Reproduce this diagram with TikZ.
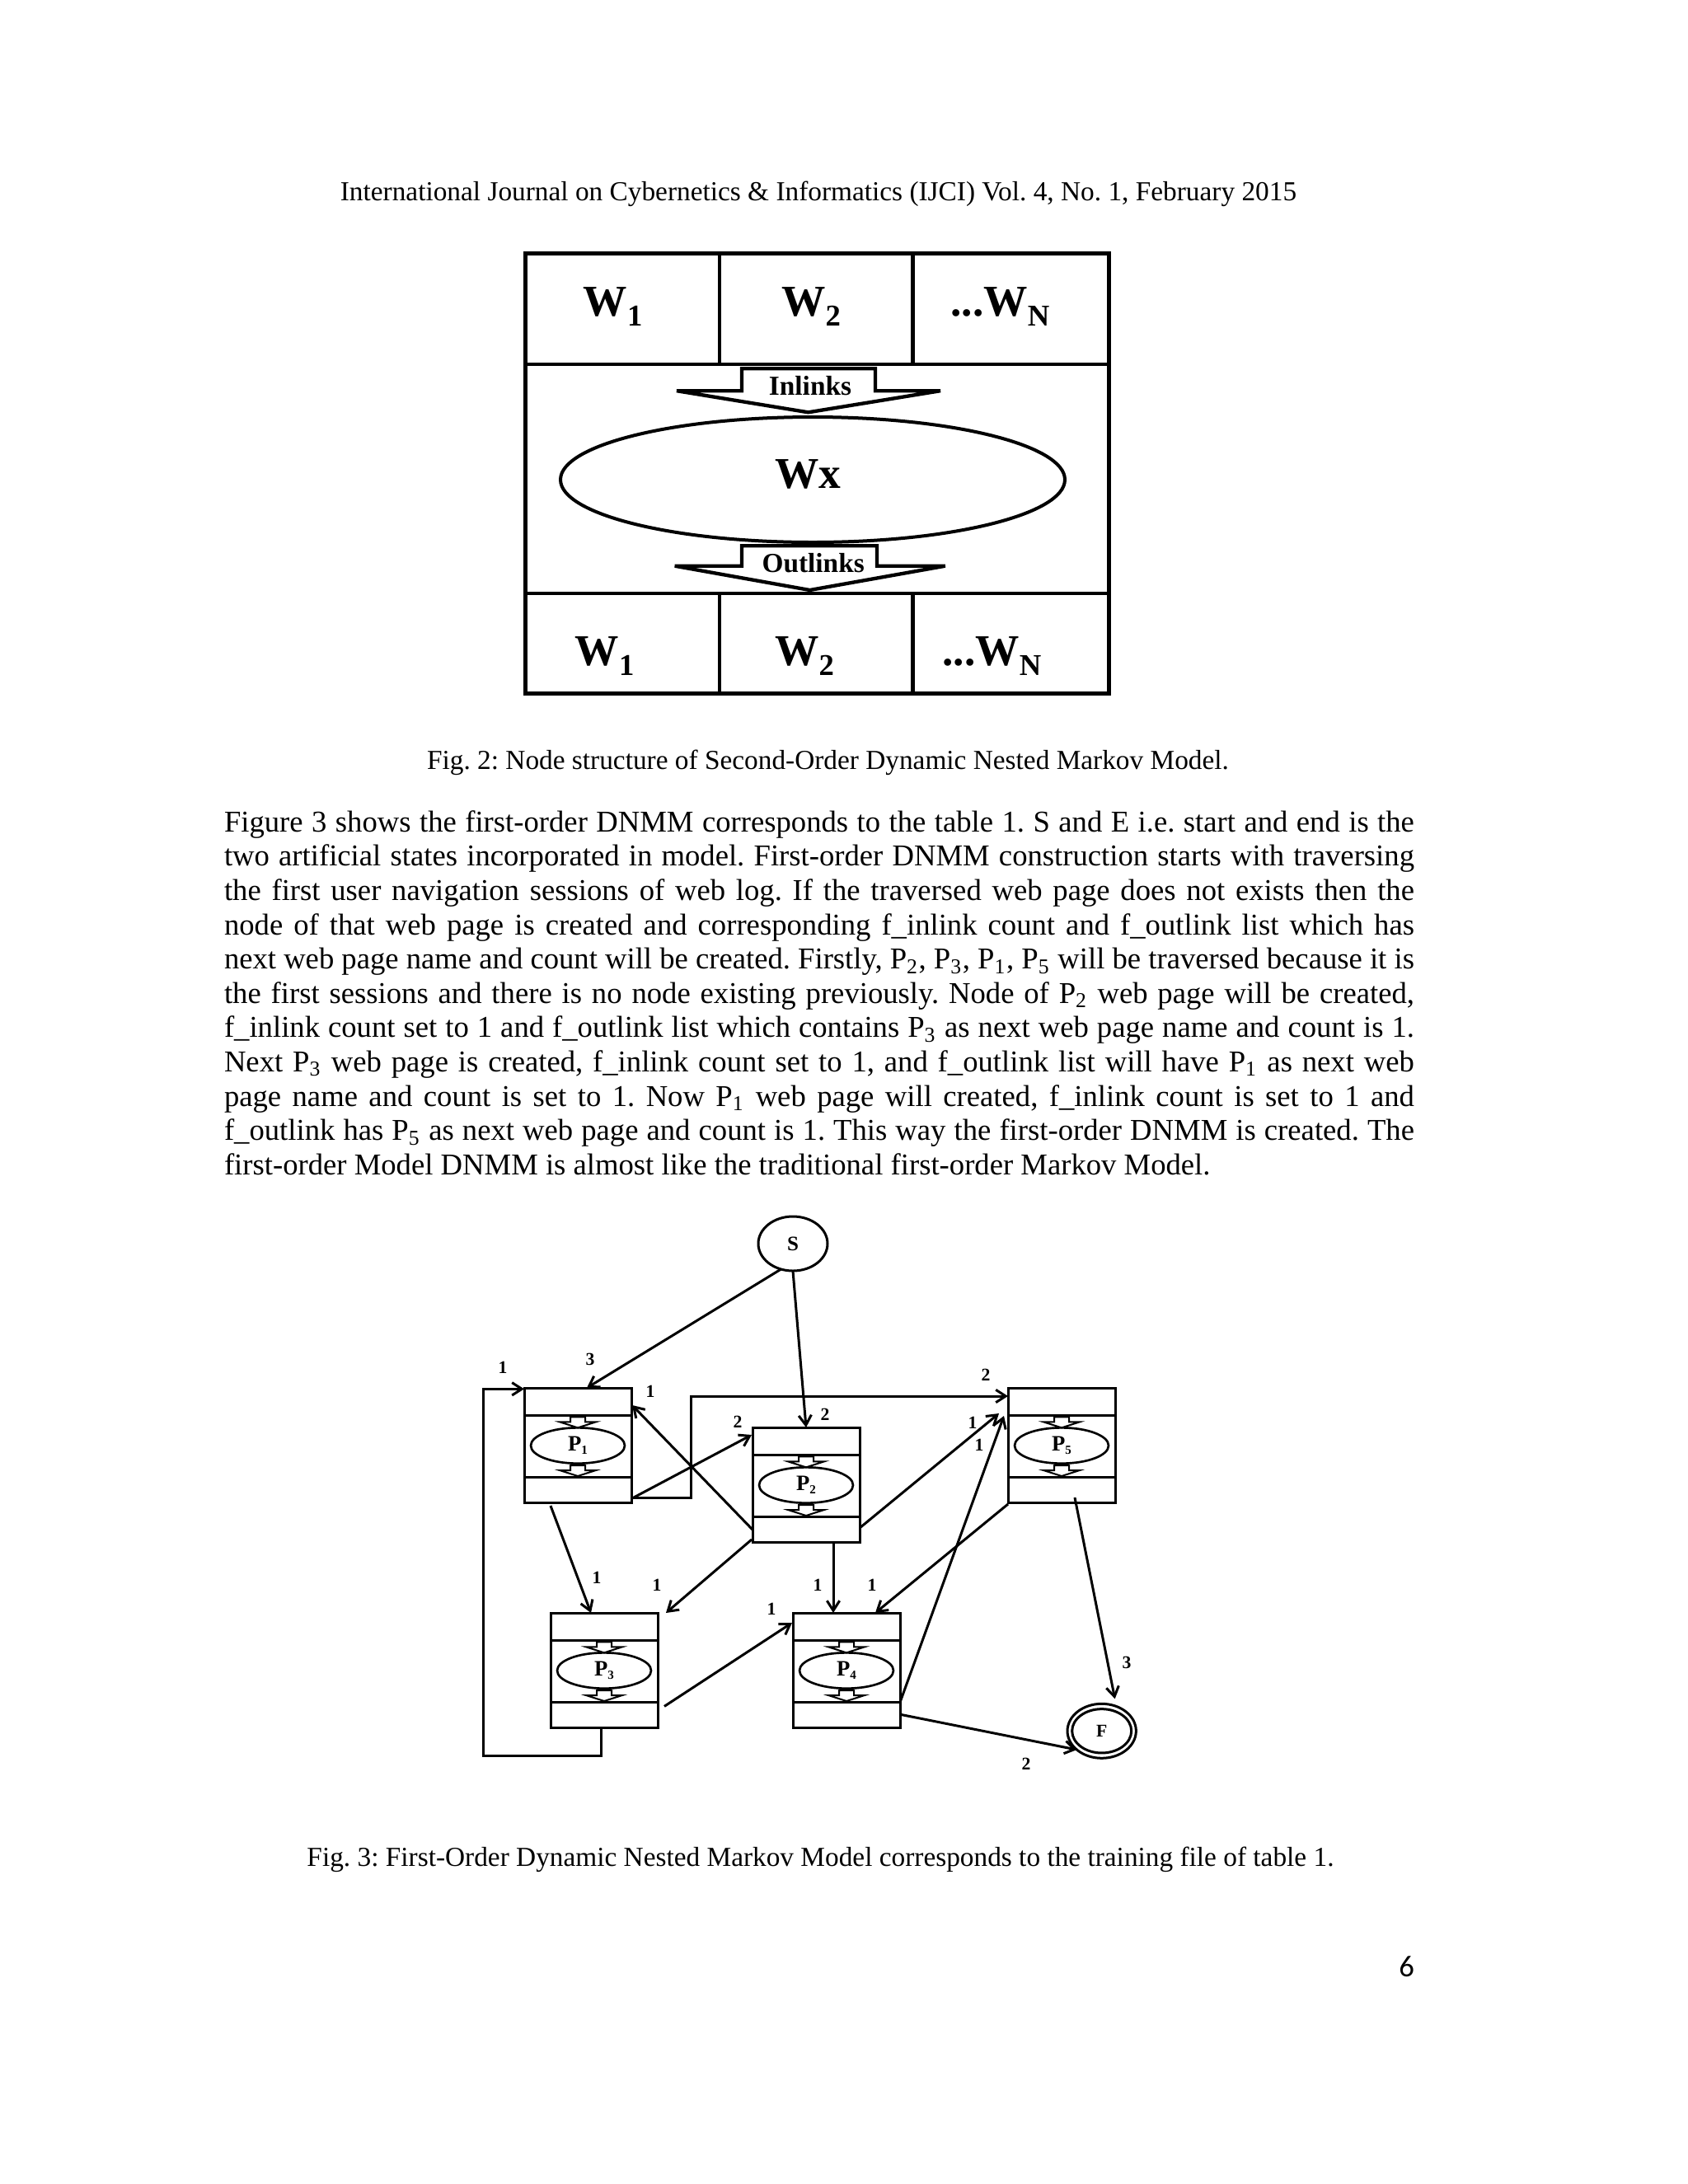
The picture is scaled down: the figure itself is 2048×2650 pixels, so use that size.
\documentclass[tikz,border=0pt]{standalone}
\usepackage{fontspec}
\setmainfont{Liberation Serif}
\newfontfamily\calib{Carlito}
\usetikzlibrary{arrows.meta,shapes.geometric,calc}
\frenchspacing
\newcommand\jline[1]{\hbox to 433.2pt{\spaceskip=0.25em plus 3em minus 0.12em\relax #1}}
\newcommand\lline[1]{\hbox to 433.2pt{\spaceskip=0.25em plus 0.1em minus 0.05em\relax #1\hfil}}
\newcommand\psub[1]{{\fontsize{4.5pt}{5pt}\selectfont\raisebox{-1.2pt}{#1}}}
\newcommand\wsub[1]{{\fontsize{11pt}{11pt}\selectfont\raisebox{-3.5pt}{#1}}}
\newcommand\tsub[1]{\textsubscript{#1}}
\newcommand\pbox[4]{%
 \node[pbx] (#1) at (#2+65,#3+69.5) {};
 \draw[pline] ($(#1.north west)+(0,33)$) -- ($(#1.north east)+(0,33)$);
 \draw[pline] ($(#1.north west)+(0,108)$) -- ($(#1.north east)+(0,108)$);
 \node[pel] (#1e) at ($(#1.north)+(0,70)$) {P\psub{#4}};
 \draw[sarr] ($(#1e.north)+(-9,-13)$) -- ++(18,0) -- ++(0,6) -- ++(13,0) -- (#1e.north) -- ++(-22,-7) -- ++(13,0) -- cycle;
 \draw[sarr] ($(#1.north)+(-9,94)$) -- ++(18,0) -- ++(0,6) -- ++(13,0) -- ($(#1.north)+(0,107)$) -- ++(-22,-7) -- ++(13,0) -- cycle;
}
\begin{document}
\begin{tikzpicture}[x=0.3pt,y=-0.3pt,
  every node/.style={inner sep=0pt,outer sep=0pt},
  body/.style={anchor=base west,font=\fontsize{11pt}{13pt}\selectfont},
  captxt/.style={anchor=base,font=\fontsize{10pt}{12pt}\selectfont},
  lbl/.style={font=\fontsize{6.5pt}{7pt}\selectfont\bfseries},
  arr/.style={line width=0.9pt,-{Straight Barb[length=3.6pt,width=4.6pt]}},
  pline/.style={line width=0.9pt},
  pbx/.style={draw,rectangle,line width=0.9pt,minimum width=39pt,minimum height=41.7pt},
  pel/.style={draw,ellipse,line width=0.8pt,minimum width=34.2pt,minimum height=13pt,font=\fontsize{8pt}{8pt}\selectfont\bfseries},
  sarr/.style={draw,fill=white,line width=0.6pt},
  blk/.style={draw,fill=white,line width=1.3pt},
  bigw/.style={anchor=base,font=\fontsize{16pt}{16pt}\selectfont\bfseries},
  ]
\fill[white] (0,0) rectangle (2048,2650);
\useasboundingbox (0,0) rectangle (2048,2650);

% header
\node[captxt] (hdr) at (993,243) {International Journal on Cybernetics \& Informatics (IJCI) Vol. 4, No. 1, February 2015};

% ---------- Fig. 2 ----------
\draw[line width=1.5pt] (637,307.5) rectangle (1345,841.5);
\draw[line width=1.3pt] (637,442) -- (1345,442) (637,720) -- (1345,720)
  (873,307.5) -- (873,442) (1107.6,307.5) -- (1107.6,442)
  (873,720) -- (873,841.5) (1107.6,720) -- (1107.6,841.5);
\node[bigw] (tw1) at (743.6,383.5) {W\wsub{1}};
\node[bigw] (tw2) at (984,383.5) {W\wsub{2}};
\node[bigw] (twn) at (1213.5,383.5) {...W\wsub{N}};
\node[bigw] (bw1) at (733.5,807.5) {W\wsub{1}};
\node[bigw] (bw2) at (976,807.5) {W\wsub{2}};
\node[bigw] (bwn) at (1203.5,807.5) {...W\wsub{N}};
\node[draw,ellipse,line width=1.2pt,minimum width=183.6pt,minimum height=45.6pt] (wx) at (986,582) {};
\node[bigw] (wxl) at (980,592.4) {Wx};
\draw[blk] (900,447.3) -- (1062,447.3) -- (1062,474.2) -- (1141,474.2) -- (980.6,500.3) -- (821,474.2) -- (900,474.2) -- cycle;
\node[anchor=base,font=\fontsize{10pt}{10pt}\selectfont\bfseries] (inl) at (983,479.5) {Inlinks};
\draw[blk] (900,662.3) -- (1064,662.3) -- (1064,686.7) -- (1146.8,686.7) -- (982.5,716) -- (818.7,686.7) -- (900,686.7) -- cycle;
\node[anchor=base,font=\fontsize{10pt}{10pt}\selectfont\bfseries] (outl) at (986.7,694) {Outlinks};

\node[captxt] (cap2) at (1004.5,933) {Fig. 2: Node structure of Second-Order Dynamic Nested Markov Model.};

% ---------- paragraph ----------
\node[body] (l1) at (272,1009.3) {\jline{Figure 3 shows the first-order DNMM corresponds to the table 1. S and E i.e. start and end is the}};
\node[body] (l2) at (272,1050.9) {\jline{two artificial states incorporated in model. First-order DNMM construction starts with traversing}};
\node[body] (l3) at (272,1092.5) {\jline{the first user navigation sessions of web log. If the traversed web page does not exists then the}};
\node[body] (l4) at (272,1134.1) {\jline{node of that web page is created and corresponding f\_inlink count and f\_outlink list which has}};
\node[body] (l5) at (272,1175.7) {\jline{next web page name and count will be created. Firstly, P\tsub{2}, P\tsub{3}, P\tsub{1}, P\tsub{5} will be traversed because it is}};
\node[body] (l6) at (272,1217.3) {\jline{the first sessions and there is no node existing previously. Node of P\tsub{2} web page will be created,}};
\node[body] (l7) at (272,1258.9) {\jline{f\_inlink count set to 1 and f\_outlink list which contains P\tsub{3} as next web page name and count is 1.}};
\node[body] (l8) at (272,1300.5) {\jline{Next P\tsub{3} web page is created, f\_inlink count set to 1, and f\_outlink list will have P\tsub{1} as next web}};
\node[body] (l9) at (272,1342.1) {\jline{page name and count is set to 1. Now P\tsub{1} web page will created, f\_inlink count is set to 1 and}};
\node[body] (l10) at (272,1383.7) {\jline{f\_outlink has P\tsub{5} as next web page and count is 1. This way the first-order DNMM is created. The}};
\node[body] (l11) at (272,1425.3) {\lline{first-order Model DNMM is almost like the traditional first-order Markov Model.}};

% ---------- Fig. 3 ----------
\node[draw,ellipse,line width=0.9pt,minimum width=25.2pt,minimum height=19.8pt,font=\fontsize{7.5pt}{8pt}\selectfont\bfseries] (S) at (962,1509) {S};
\node[draw,ellipse,line width=0.9pt,minimum width=25pt,minimum height=19.8pt,font=\fontsize{6.5pt}{7pt}\selectfont\bfseries] (F) at (1336.7,2100.3) {F};
\draw[line width=0.9pt] (F.center) ellipse [x radius=10.8pt, y radius=8pt];

\pbox{P1}{636}{1684}{1}
\pbox{P2}{913}{1732}{2}
\pbox{P5}{1223}{1684}{5}
\pbox{P3}{668}{1957}{3}
\pbox{P4}{962}{1957}{4}

\coordinate (lp) at ($(P1.north west)+(-49.3,1.3)$);
\draw[arr] (S.245) -- ($(P1.north west)+(76,0)$);
\draw[arr] (S.south) -- ($(P2.north west)+(65,0)$);
\draw[arr] ($(P3.south west)+(61,0)$) -- ++(0,34.5) -| (lp) -- ($(P1.north west)+(0,1.3)$);
\draw[arr] ($(P1.south east)+(0,-6)$) -- ++(72,0) |- ($(P5.north west)+(0,10)$);
\draw[arr] ($(P1.south east)+(1,-5)$) -- ($(P2.north west)+(-1,9)$);
\draw[arr] ($(P2.south west)+(0,-15)$) -- ($(P1.north east)+(1,21)$);
\draw[arr] ($(P2.south east)+(0,-17)$) -- ($(P5.north west)+(-11,31)$);
\draw[arr] ($(P4.south east)+(0,-30.6)$) -- ($(P5.north west)+(-5,34)$);
\draw[arr] ($(P5.south west)+(0,2)$) -- ($(P4.north west)+(100,0)$);
\draw[arr] ($(P5.south west)+(81,-6)$) -- ($(F.north)+(16,-6)$);
\draw[arr] ($(P4.south east)+(1,-15.6)$) -- (F.217);
\draw[arr] ($(P2.south west)+(98,0)$) -- ($(P4.north west)+(49,0)$);
\draw[arr] ($(P2.south west)+(-1,-3)$) -- ($(P3.north east)+(10,0)$);
\draw[arr] ($(P1.south west)+(32,4)$) -- ($(P3.north west)+(49,0)$);
\draw[arr] ($(P3.south east)+(8,-25.6)$) -- ($(P4.north west)+(-1,12)$);

\node[lbl] (n1) at (610,1659) {1};
\node[lbl] (n2) at (716,1649) {3};
\node[lbl] (n3) at (789,1688) {1};
\node[lbl] (n4) at (895,1725) {2};
\node[lbl] (n5) at (1001,1716) {2};
\node[lbl] (n6) at (1196,1668) {2};
\node[lbl] (n7) at (1180,1726) {1};
\node[lbl] (n8) at (1188,1753) {1};
\node[lbl] (n9) at (724,1914) {1};
\node[lbl] (n10) at (797,1923) {1};
\node[lbl] (n11) at (992,1923) {1};
\node[lbl] (n12) at (1058,1923) {1};
\node[lbl] (n13) at (936,1952) {1};
\node[lbl] (n14) at (1367,2017) {3};
\node[lbl] (n15) at (1245,2140) {2};

\node[captxt] (cap3) at (995.5,2264) {Fig. 3: First-Order Dynamic Nested Markov Model corresponds to the training file of table 1.};

\node[anchor=base east,font=\calib\fontsize{11pt}{12pt}\selectfont] (pg) at (1716,2398) {6};
\end{tikzpicture}
\end{document}
